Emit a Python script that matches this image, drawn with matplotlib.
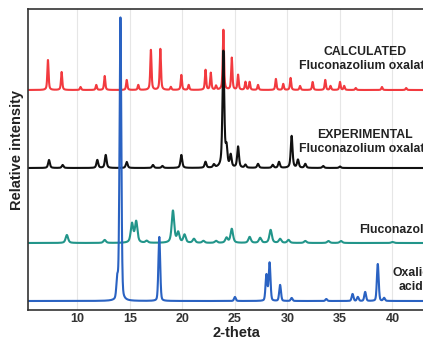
import matplotlib
matplotlib.use("Agg")
import matplotlib.pyplot as plt
import numpy as np

plt.rcParams['font.family'] = ['Liberation Sans', 'DejaVu Sans']

# peak lists: (2-theta, height above the trace baseline)
calc_pos = [7.2, 8.5, 10.3, 11.8, 12.6, 14.7, 15.8, 17.0, 17.9, 18.9, 19.9, 20.6,
            22.2, 22.7, 23.2, 23.9, 24.7, 25.3, 26.0, 26.4, 27.2, 28.9, 29.6, 30.3,
            31.2, 32.4, 33.6, 34.1, 35.0, 35.4, 36.5, 39.0, 41.3]
calc_h = [30, 18, 3, 5, 14, 10, 5, 40, 41, 3, 15, 5,
          20, 17, 4, 60, 32, 15, 8, 8, 5, 11, 6, 12,
          4, 8, 10, 4, 8, 4, 2, 3, 2]

exp_pos = [7.3, 8.6, 11.9, 12.7, 14.7, 17.2, 18.1, 19.9, 22.2, 23.0, 23.9, 24.2,
           24.6, 25.3, 26.0, 27.2, 28.6, 29.2, 30.4, 31.0, 31.7, 33.4, 35.0]
exp_h = [8, 3, 8, 13, 6, 3, 2, 13, 6, 3, 116, 18,
         12, 21, 3, 4, 3, 6, 32, 8, 4, 2, 1.5]

flu_pos = [9.0, 12.6, 15.2, 15.6, 16.6, 19.1, 19.6, 20.2, 21.1, 22.0, 23.2, 24.2,
           24.7, 26.4, 27.4, 28.4, 29.3, 30.1, 31.7, 33.9, 35.1, 40.0]
flu_h = [8, 3, 19, 21, 2, 32, 10, 8, 4, 2, 2, 5,
         14, 6, 5, 13, 4, 3, 2, 2, 2, 1]

oxa_pos = [13.8, 14.1, 17.8, 25.0, 28.0, 28.3, 29.3, 30.4, 33.7, 36.2, 36.7, 37.4, 38.6, 39.2]
oxa_h = [20, 283, 64, 4, 26, 38, 16, 3, 2, 7, 4, 9, 37, 3]

offsets = [220, 142, 67, 9]
colors = ['#f23a3f', '#111111', '#22958a', '#2a62c2']
widths = [0.14, 0.2, 0.28, 0.2]
lorentz = [0.6, 0.6, 0.6, 0.25]

two_theta = np.arange(5.0, 46.0, 0.01)


def profile(pos, heights, fwhm, eta):
    y = np.zeros_like(two_theta)
    for p, h in zip(pos, heights):
        d = (two_theta - p) / (fwhm / 2)
        y += h * (eta / (1 + d ** 2) + (1 - eta) * np.exp(-np.log(2) * d ** 2))
    return y


fig = plt.figure(figsize=(4.23, 3.37), dpi=100)
ax = fig.add_axes([28 / 423, 27 / 337, 417 / 423, 301 / 337])

patterns = [(calc_pos, calc_h), (exp_pos, exp_h), (flu_pos, flu_h), (oxa_pos, oxa_h)]
for (pos, h), off, c, w, eta in zip(patterns, offsets, colors, widths, lorentz):
    ax.plot(two_theta, profile(pos, h, w, eta) + off, color=c, lw=1.5)

ax.set_xlim(5.3, 45)
ax.set_ylim(0, 301)
ax.set_xticks([10, 15, 20, 25, 30, 35, 40])
ax.set_yticks([])
ax.grid(axis='x', color='#e6e6e6', lw=0.8)
ax.set_axisbelow(True)
ax.tick_params(axis='x', length=0, pad=2, labelsize=9, labelcolor='#333333')
for lab in ax.get_xticklabels():
    lab.set_fontweight('bold')
for s in ax.spines.values():
    s.set_color('#333333')
    s.set_linewidth(1.2)

ax.set_xlabel('2-theta', fontsize=10.5, fontweight='bold', color='#222222', labelpad=1)
ax.set_ylabel('Relative intensity', fontsize=10.5, fontweight='bold', color='#222222')
ax.yaxis.set_label_coords(-0.01, 0.53)

kw = dict(fontsize=8.8, fontweight='bold', color='#222222', ha='center', va='center',
          multialignment='center', linespacing=1.25)
ax.text(37.4, 251, 'CALCULATED\nFluconazolium oxalate', **kw)
ax.text(37.4, 168, 'EXPERIMENTAL\nFluconazolium oxalate', **kw)
ax.text(36.86, 80, 'Fluconazole', fontsize=8.8, fontweight='bold', color='#222222',
        ha='left', va='center')
ax.text(41.8, 30, 'Oxalic\nacid', **kw)

fig.savefig('out.png', dpi=100)
